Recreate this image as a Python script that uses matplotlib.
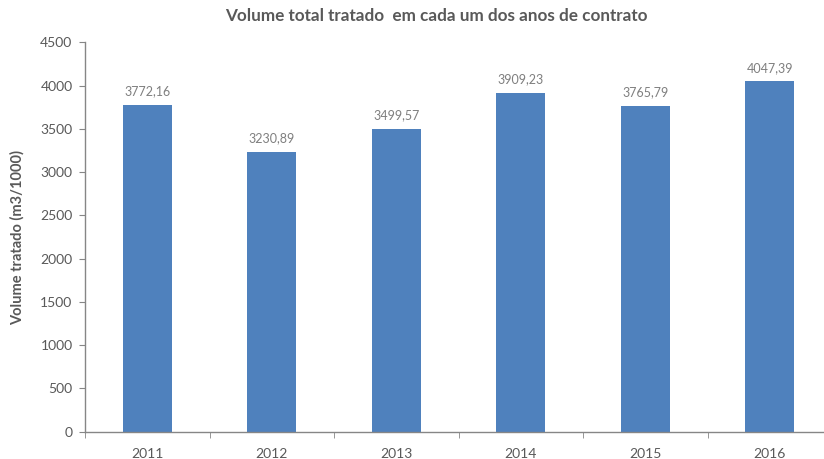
import matplotlib
matplotlib.use("Agg")
import matplotlib.pyplot as plt

years = ["2011", "2012", "2013", "2014", "2015", "2016"]
values = [3772.16, 3230.89, 3499.57, 3909.23, 3765.79, 4047.39]
labels = ["3772,16", "3230,89", "3499,57", "3909,23", "3765,79", "4047,39"]
yticks = [0, 500, 1000, 1500, 2000, 2500, 3000, 3500, 4000, 4500]

plt.rcParams['font.family'] = ['Lato', 'DejaVu Sans']
grey = '#595959'
label_grey = '#7f7f7f'
axis_grey = '#868686'

fig = plt.figure(figsize=(8.24, 4.59), dpi=100)
ax = fig.add_axes([0.1032, 0.0595, 0.9065, 0.8483])

x = list(range(len(years)))
bars = ax.bar(x, values, width=0.39, color='#4F81BD', zorder=2)
for xi, v, lab in zip(x, values, labels):
    ax.text(xi, v + 90, lab, ha='center', va='bottom', fontsize=9, color=label_grey)

ax.set_xlim(-0.5, len(years) - 0.5)
ax.set_ylim(0, 4500)
ax.set_yticks(yticks)
ax.set_yticklabels([str(t) for t in yticks], fontsize=10, color=grey)
ax.set_xticks(x)
ax.set_xticklabels(years, fontsize=10, color=grey)
ax.set_xticks([i + 0.5 for i in range(-1, len(years))], minor=True)
ax.tick_params(axis='x', which='major', length=0, pad=12)
ax.tick_params(axis='x', which='minor', length=4, color=axis_grey, direction='out')
ax.tick_params(axis='y', length=4, color=axis_grey, direction='out', pad=5)

for s in ['top', 'right']:
    ax.spines[s].set_visible(False)
for s in ['left', 'bottom']:
    ax.spines[s].set_color(axis_grey)
    ax.spines[s].set_linewidth(1)

ax.set_ylabel("Volume tratado (m3/1000)", fontsize=10.5, fontweight='bold', color=grey, labelpad=11)
fig.text(0.529, 0.965, "Volume total tratado  em cada um dos anos de contrato", ha='center', va='center',
         fontsize=12.3, fontweight='bold', color=grey)

fig.savefig("out.png", dpi=100)
